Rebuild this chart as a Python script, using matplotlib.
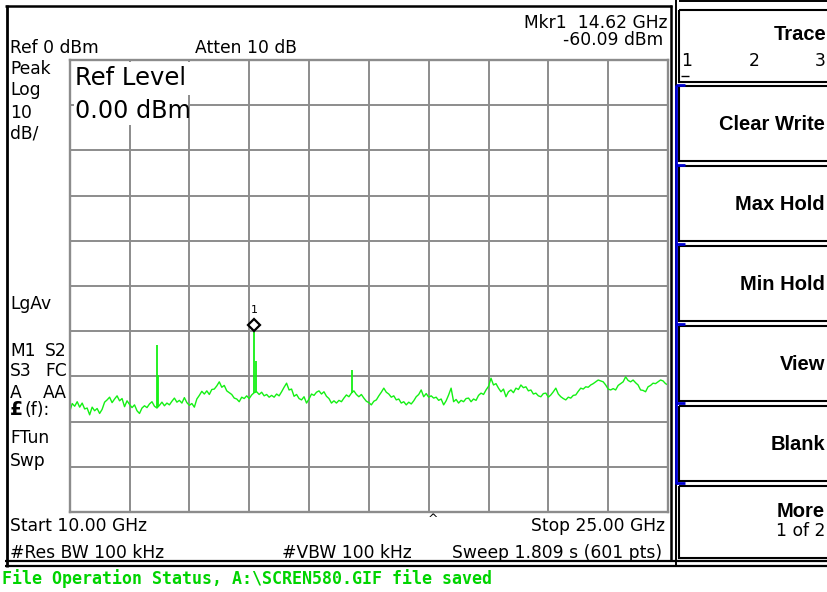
import matplotlib

matplotlib.use("Agg")
import matplotlib.pyplot as plt
import numpy as np
from matplotlib import font_manager
from matplotlib.patches import Rectangle
from matplotlib.transforms import offset_copy

# ── sweep settings ───────────────────────────────────────────────────────────
START_GHZ = 10.0
STOP_GHZ = 25.0
REF_DBM = 0.0
DB_PER_DIV = 10.0
ATTEN_DB = 10
RBW_KHZ = 100
VBW_KHZ = 100
SWEEP_S = 1.809
N_PTS = 601

# trace levels (dBm), evenly spaced across the span
TRACE_DBM = [
    -77.8, -76.0, -76.6, -75.6, -76.8, -75.9, -77.2, -77.0, -78.5, -76.8,
    -77.6, -77.1, -78.2, -77.3, -75.7, -75.2, -74.6, -75.8, -75.0, -74.3,
    -75.4, -74.9, -76.7, -75.4, -76.2, -76.9, -76.3, -77.6, -78.2, -77.0,
    -76.5, -76.9, -76.1, -75.6, -76.6, -77.0, -76.4, -75.7, -76.5, -75.9,
    -76.3, -75.5, -74.8, -75.7, -75.3, -75.9, -74.7, -75.8, -76.4, -76.0,
    -76.8, -75.0, -74.2, -73.3, -73.9, -73.2, -74.0, -72.9, -72.8, -72.1,
    -71.2, -72.4, -72.0, -73.2, -73.6, -74.0, -74.8, -75.0, -75.6, -74.6,
    -74.9, -74.3, -74.9, -74.1, -73.6, -73.4, -74.0, -73.5, -74.3, -74.0,
    -74.6, -74.2, -74.6, -73.9, -74.3, -73.4, -72.4, -71.5, -73.0, -72.8,
    -74.4, -74.0, -74.9, -75.2, -74.5, -75.9, -75.0, -73.9, -74.2, -73.5,
    -73.2, -73.9, -73.4, -74.4, -74.9, -75.9, -75.4, -75.9, -75.3, -75.6,
    -74.8, -74.1, -74.5, -73.7, -73.2, -74.0, -74.5, -74.0, -74.8, -75.5,
    -75.8, -76.3, -75.5, -75.2, -74.3, -73.5, -72.6, -73.5, -73.9, -74.6,
    -74.3, -75.2, -75.0, -75.9, -75.6, -76.3, -75.7, -76.1, -75.4, -74.5,
    -74.0, -73.0, -74.5, -73.8, -74.6, -74.3, -74.8, -74.6, -75.3, -75.0,
    -76.3, -75.4, -74.1, -72.6, -75.6, -75.1, -75.9, -75.3, -75.6, -74.9,
    -74.8, -75.6, -75.0, -75.3, -74.2, -73.7, -74.0, -73.0, -72.2, -70.4,
    -71.9, -71.6, -72.6, -73.4, -72.8, -74.5, -73.4, -73.0, -73.6, -72.6,
    -72.9, -71.9, -72.5, -72.3, -73.2, -73.0, -73.9, -73.7, -74.3, -74.5,
    -73.8, -73.7, -74.6, -74.1, -73.4, -72.6, -73.9, -74.5, -74.9, -75.2,
    -74.6, -74.8, -74.2, -74.1, -73.3, -72.6, -72.8, -72.3, -72.4, -71.9,
    -71.6, -71.2, -70.8, -71.0, -71.2, -71.9, -72.8, -73.0, -72.7, -73.0,
    -72.0, -71.6, -71.2, -70.1, -70.9, -71.2, -70.8, -71.4, -71.9, -73.0,
    -73.1, -73.4, -72.3, -72.0, -71.5, -71.6, -71.2, -70.8, -71.0, -71.6,
    -71.9,
]

# narrow discrete lines sitting on the floor
SPUR_GHZ = [12.18, 12.21, 14.62, 14.66, 17.08]
SPUR_PEAK_DBM = [-63.1, -69.8, -60.09, -66.6, -68.6]
SPUR_FLOOR_DBM = [-77.0, -76.8, -73.6, -73.4, -73.7]

MKR_GHZ = 14.62
MKR_DBM = -60.09

SOFTKEYS = ["Clear Write", "Max Hold", "Min Hold", "View", "Blank"]

# ── look ─────────────────────────────────────────────────────────────────────
W, H = 827, 592
GREEN = "#14f014"
STATUS_GREEN = "#00d400"
GRID = "#8c8c8c"
BLUE = "#0000d0"
SANS = "DejaVu Sans"
KEY = "Liberation Sans"
SMALL = 12.3

_names = {f.name for f in font_manager.fontManager.ttflist}
if "Liberation Sans Narrow" in _names:
    STATUS_FONT, STATUS_SIZE = "Liberation Sans Narrow", 15.5
else:
    STATUS_FONT, STATUS_SIZE = "DejaVu Sans Mono", 12.0


def fig_box(x0, y0, x1, y1):
    """pixel box (top-left origin) -> figure fraction rect"""
    return [x0 / W, 1 - y1 / H, (x1 - x0) / W, (y1 - y0) / H]


fig = plt.figure(figsize=(W / 100, H / 100), dpi=100)
fig.patch.set_facecolor("white")

# graticule
ax = fig.add_axes(fig_box(69.7, 60, 668, 512))
ax.set_xlim(START_GHZ, STOP_GHZ)
ax.set_ylim(REF_DBM - 10 * DB_PER_DIV, REF_DBM)
ax.set_xticks(np.linspace(START_GHZ, STOP_GHZ, 11))
ax.set_yticks(np.linspace(REF_DBM - 10 * DB_PER_DIV, REF_DBM, 11))
ax.tick_params(length=0, labelbottom=False, labelleft=False)
ax.grid(True, color=GRID, lw=1.4)
for sp in ax.spines.values():
    sp.set_color(GRID)
    sp.set_linewidth(1.7)

freq = np.linspace(START_GHZ, STOP_GHZ, len(TRACE_DBM))
ax.plot(freq, TRACE_DBM, color=GREEN, lw=1.0)
ax.vlines(SPUR_GHZ, SPUR_FLOOR_DBM, SPUR_PEAK_DBM, color=GREEN, lw=1.3)

# marker diamond sits just above the peak it reads
mk_tr = offset_copy(ax.transData, fig=fig, x=0, y=6.5, units="dots")
ax.plot([MKR_GHZ], [MKR_DBM], marker="D", ms=6.5, mfc="white", mec="black",
        mew=1.6, transform=mk_tr, clip_on=False, zorder=5)
lbl_tr = offset_copy(ax.transData, fig=fig, x=0, y=17, units="dots")
ax.text(MKR_GHZ, MKR_DBM, "1", transform=lbl_tr, ha="center", va="bottom",
        fontsize=8, family=SANS)

# overlay in screen pixels for frames, softkeys and annotations
ov = fig.add_axes([0, 0, 1, 1], zorder=3)
ov.set_xlim(0, W)
ov.set_ylim(H, 0)
ov.axis("off")


def hline(y, x0, x1, lw=1.6, color="black"):
    ov.plot([x0, x1], [y, y], color=color, lw=lw, solid_capstyle="butt")


def vline(x, y0, y1, lw=1.6, color="black"):
    ov.plot([x, x], [y0, y1], color=color, lw=lw, solid_capstyle="butt")


def put(x, y, s, size=SMALL, ha="left", weight="normal", family=SANS,
        color="black"):
    ov.text(x, y, s, fontsize=size, ha=ha, va="baseline", fontweight=weight,
            family=family, color=color)


# screen frame
vline(6.5, 5, 567, lw=2.0)
hline(6.2, 5, 672, lw=1.8)
vline(671, 5, 561, lw=1.8)
hline(561, 5, W, lw=1.6)
hline(566, 5, W, lw=1.6)
vline(676, 0, 566, lw=1.4)

# softkey panel
hline(1, 679, W, lw=1.4)
ov.add_patch(Rectangle((679, 10), 160, 72, fill=False, ec="black", lw=1.5))
box_tops = [86, 166, 246, 326, 406, 486]
box_bots = [161, 241, 321, 401, 481, 558]
for t, b in zip(box_tops, box_bots):
    ov.add_patch(Rectangle((679, t), 160, b - t, fill=False, ec="black",
                           lw=1.5))
vline(676, 85, 484, lw=2.0, color=BLUE)
for y in [85, 165, 244, 324, 403, 483]:
    hline(y, 676, 685, lw=2.0, color=BLUE)

put(826, 40, "Trace", size=14.5, ha="right", weight="bold", family=KEY)
put(681, 66.5, "1")
hline(76, 681, 689, lw=1.0)
put(754, 66.5, "2", ha="center")
put(826, 66.5, "3", ha="right")
for label, t, b in zip(SOFTKEYS, box_tops, box_bots):
    put(825, (t + b) / 2 + 7, label, size=14.5, ha="right", weight="bold",
        family=KEY)
put(825, 517, "More", size=14.5, ha="right", weight="bold", family=KEY)
put(825, 536.5, "1 of 2", ha="right")

# header
put(667, 28, f"Mkr1  {MKR_GHZ:.2f} GHz", ha="right")
put(663, 45, f"{MKR_DBM:.2f} dBm", ha="right")
put(10, 53, f"Ref {REF_DBM:.0f} dBm")
put(195, 53, f"Atten {ATTEN_DB} dB")

# left column
put(10, 73.5, "Peak")
put(10, 95, "Log")
put(10, 118, f"{DB_PER_DIV:.0f}")
put(10, 138.5, "dB/")
put(10, 309, "LgAv")
for left, right, y in [("M1", "S2", 356.5), ("S3", "FC", 376.5),
                       ("A", "AA", 397.5)]:
    put(10, y, left)
    put(67, y, right, ha="right")
put(10, 415, "£", size=13.5, weight="bold")
put(24, 415, "(f):")
put(10, 443, "FTun")
put(10, 465.5, "Swp")

# reference level readout, blanking the grid behind it
ov.add_patch(Rectangle((71.5, 62), 124, 33, fc="white", ec="none"))
ov.add_patch(Rectangle((74, 95), 114, 30, fc="white", ec="none"))
put(75, 85, "Ref Level", size=17.5)
put(75, 118, f"{REF_DBM:.2f} dBm", size=17.2)

# footer
put(10, 531, f"Start {START_GHZ:.2f} GHz")
put(665, 531, f"Stop {STOP_GHZ:.2f} GHz", ha="right")
put(433, 523, "^", size=9, ha="center")
put(10, 557.5, f"#Res BW {RBW_KHZ} kHz")
put(282, 557.5, f"#VBW {VBW_KHZ} kHz")
put(662, 557.5, f"Sweep {SWEEP_S:.3f} s ({N_PTS} pts)", ha="right")

put(2, 584.5, r"File Operation Status, A:\SCREN580.GIF file saved",
    size=STATUS_SIZE, weight="bold", family=STATUS_FONT, color=STATUS_GREEN)

fig.savefig("out.png", dpi=100)
